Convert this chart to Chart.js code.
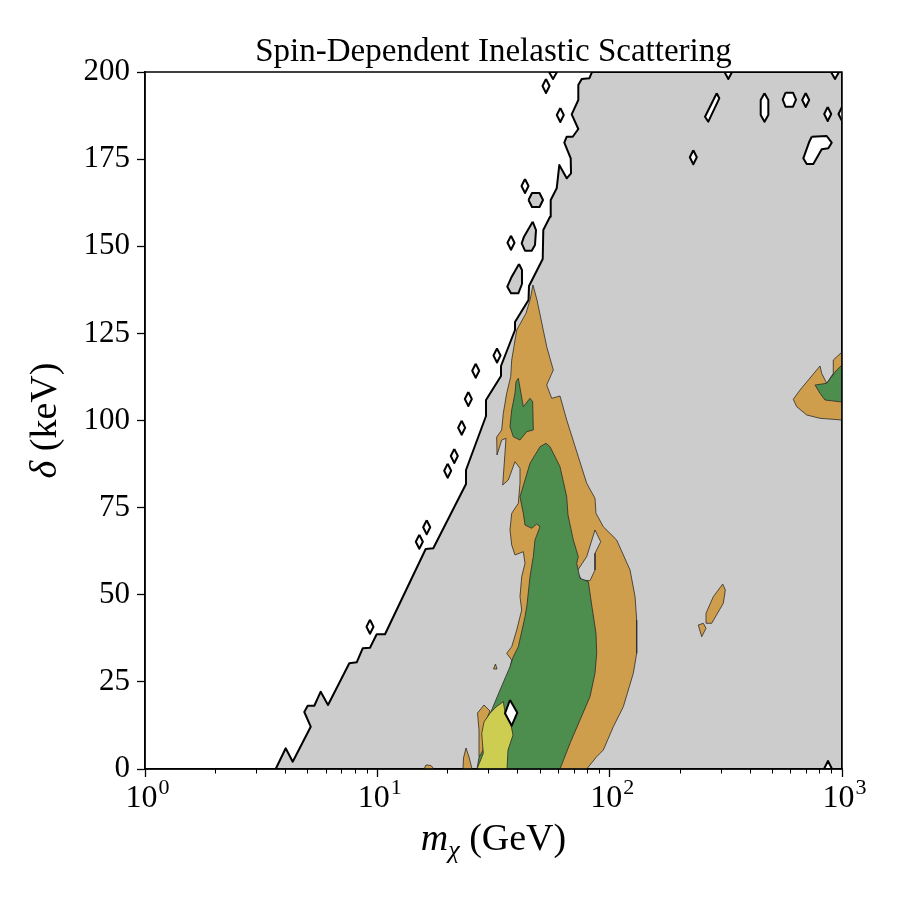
<!DOCTYPE html>
<html><head><meta charset="utf-8">
<script src="https://cdn.jsdelivr.net/npm/chart.js@4.4.1/dist/chart.umd.min.js"></script>
<style>html,body{margin:0;padding:0;background:#fff}canvas{display:block}</style>
</head><body>
<canvas id="c" width="900" height="900"></canvas>
<script>
// ---- tick labels ----
const xTickValues = [1, 10, 100, 1000];
const xTickBase = ['10', '10', '10', '10'];
const xTickExp = ['0', '1', '2', '3'];
const yTickValues = [0, 25, 50, 75, 100, 125, 150, 175, 200];

// ---- contour polygons: [m_chi (GeV), delta (keV)] ----
const greyRegion = [[3.652,0],[4.033,5.94],[4.323,2.09],[5.167,12.14],[4.849,16.36],[5.015,18.16],[5.354,18.16],[5.705,22.18],[6.133,18.36],[7.574,30.33],[8.150,30.62],[8.649,34.63],[9.298,34.81],[9.938,38.65],[10.79,38.65],[16.15,63.13],[17.41,63.33],[24.08,81.78],[24.08,85.80],[29.36,101.29],[29.36,105.88],[34.06,112.77],[34.06,115.64],[39.13,125.97],[39.13,128.26],[44.74,134.57],[44.96,138.59],[51.50,146.34],[51.80,154.66],[55.37,158.48],[55.75,163.27],[59.16,166.63],[60.70,173.31],[65.33,169.50],[68.17,170.93],[67.97,175.24],[63.80,179.71],[65.33,181.43],[69.33,181.43],[73.29,183.64],[68.64,187.86],[73.29,191.96],[73.29,196.27],[75.80,197.99],[81.72,198.19],[83.94,200],[1000,200],[1000,0]];

const greyIslands = [
  [[44.74,163.27],[46.32,165.28],[49.89,165.28],[51.66,163.27],[49.89,161.26],[46.32,161.26]],
  [[46.63,157.04],[48.19,154.66],[47.71,150.36],[46.18,148.72],[43.21,148.72],[41.82,150.84],[42.78,152.74]],
  [[40.72,144.90],[41.94,143.18],[41.94,139.17],[40.44,136.50],[37.61,136.50],[36.26,138.39],[37.88,141.26]]
];

const openIslandsLeft = [
  [[54.82,200],[59.34,200],[57.04,197.99]],
  [[53.21,197.99],[55.09,195.98],[53.21,193.97],[51.40,195.98]],
  [[61.31,189.67],[63.47,187.66],[61.31,185.65],[59.22,187.66]],
  [[43.21,169.30],[44.74,167.29],[43.21,165.28],[41.74,167.29]],
  [[37.61,153.03],[38.94,151.02],[37.61,149.01],[36.33,151.02]],
  [[32.74,120.66],[33.90,118.65],[32.74,116.64],[31.62,118.65]],
  [[26.51,116.30],[27.45,114.29],[26.51,112.28],[25.61,114.29]],
  [[24.64,108.18],[25.51,106.17],[24.64,104.16],[23.80,106.17]],
  [[23.07,99.94],[23.88,97.93],[23.07,95.92],[22.28,97.93]],
  [[21.44,91.82],[22.20,89.81],[21.44,87.80],[20.71,89.81]],
  [[20.08,87.61],[20.79,85.60],[20.08,83.59],[19.40,85.60]],
  [[16.31,71.36],[16.89,69.35],[16.31,67.34],[15.75,69.35]],
  [[15.16,67.23],[15.70,65.22],[15.16,63.21],[14.64,65.22]],
  [[9.298,42.84],[9.626,40.83],[9.298,38.82],[8.981,40.83]]
];

const orangeMain = [[46.77,138.88],[48.67,134.57],[53.58,121.18],[57.20,114.49],[53.58,110.18],[56.30,106.37],[61.13,107.03],[65.33,100.14],[73.29,89.61],[79.64,81.98],[86.47,77.67],[87.33,73.37],[93.89,69.53],[107.2,65.71],[122.4,57.10],[128.6,49.44],[130.7,42.75],[130.7,33.20],[126.4,27.46],[114.5,17.88],[103.7,12.14],[93.89,5.45],[87.94,3.53],[79.64,0],[45.41,0],[37.24,28.89],[37.88,31.28],[36.04,33.20],[37.88,35.09],[39.81,39.88],[41.82,45.62],[41.12,49.44],[41.82,55.18],[43.21,59.02],[42.49,62.35],[39.13,61.41],[37.88,64.27],[37.24,68.58],[37.88,73.37],[40.44,76.24],[41.12,81.98],[41.12,86.28],[39.13,88.18],[36.62,82.93],[34.64,81.49],[35.43,90.59],[35.79,94.89],[34.30,94.40],[32.74,90.10],[32.64,95.26],[34.30,97.27],[34.85,102.07],[36.04,107.80],[37.50,112.57],[37.88,117.36],[39.81,125.97],[43.64,130.76],[45.41,134.57]];

const orangeRight = [[617.2,106.08],[659.6,108.75],[728.3,112.19],[804.1,115.64],[817.8,113.54],[859.3,110.67],[917.3,113.54],[917.3,117.36],[1000,119.65],[1000,100.14],[804.1,100.63],[704.9,101.58],[638.4,103.96]];

const orangeSpecks = [
  [[306.6,53.08],[314.6,51.36],[308.4,47.55],[274.9,41.81],[261.6,41.81],[259.8,44.68],[279.3,49.44]],
  [[240.7,41.32],[253.0,41.81],[259.8,40.37],[249.0,37.96]],
  [[23.37,0],[23.49,3.16],[24.08,6.03],[24.81,3.44],[25.56,0]],
  [[15.88,0],[16.20,1.15],[17.02,1.0],[17.54,0]],
  [[31.62,28.69],[32.25,30.13],[32.74,28.69]]
];

const greyHole = [[86.47,68.58],[91.50,65.22],[86.47,61.89],[86.47,57.10],[82.29,54.03],[75.80,54.23],[72.14,56.61],[79.64,60.92]];

const greenMain = [[53.21,93.46],[55.37,92.48],[61.13,86.74],[65.33,78.13],[66.18,72.88],[69.74,65.71],[73.29,60.92],[72.14,59.02],[74.53,54.72],[80.92,53.74],[83.69,47.06],[87.33,38.94],[87.94,33.20],[86.47,27.46],[82.29,20.75],[74.53,14.06],[67.50,7.37],[61.13,0],[26.85,0],[29.07,13.11],[31.06,16.93],[33.73,22.67],[37.24,29.35],[38.47,32.22],[40.44,35.09],[43.21,43.70],[44.07,47.06],[45.41,55.18],[46.91,60.92],[47.71,65.71],[50.14,69.53],[48.53,70.30],[46.18,69.07],[43.21,70.01],[42.49,73.37],[41.12,78.13],[43.21,82.93],[45.41,87.72],[50.14,92.48]];

const greenIsland = [[40.44,112.11],[42.49,103.96],[45.41,106.37],[46.63,105.39],[46.91,97.27],[43.95,96.79],[41.12,94.40],[38.47,95.35],[37.24,98.22],[37.88,103.01],[39.13,107.80],[39.52,111.13]];

const greenRight = [[765.2,110.18],[859.3,110.67],[948.9,114.49],[1000,115.92],[1000,105.31],[845.0,105.88],[804.1,107.80]];

const orangeSliver = [[26.99,16.07],[28.78,18.36],[30.54,16.64],[29.07,13.20],[28.50,5.45],[27.66,3.73],[27.39,11.19]];

const yellowRegion = [[26.85,0],[28.59,4.50],[28.13,10.13],[28.78,13.49],[30.54,15.98],[32.42,17.79],[34.85,19.31],[35.43,16.36],[37.61,12.63],[38.36,9.76],[36.51,5.45],[36.15,0]];

const openIslandsRight = [
  [[312.1,200],[336.2,200],[324.1,197.99]],
  [[896.8,200],[971.0,200],[933.0,197.99]],
  [[288.9,193.89],[296.4,192.45],[265.8,185.74],[257.3,187.17]],
  [[463.9,193.89],[481.8,191.96],[481.8,187.66],[463.9,185.74],[446.8,187.66],[446.8,191.96]],
  [[571.3,194.06],[615.4,194.06],[634.0,192.05],[615.4,190.04],[571.3,190.04],[555.6,192.05]],
  [[697.9,193.97],[722.5,191.96],[697.9,189.95],[674.1,191.96]],
  [[867.9,189.96],[898.5,187.95],[867.9,185.94],[838.3,187.95]],
  [[1000,189.96],[1035,187.95],[1000,185.94],[965.9,187.95]],
  [[740.6,181.43],[859.3,181.63],[903.0,179.71],[873.0,178.10],[817.8,177.82],[752.5,173.60],[704.9,173.60],[681.5,175.24],[723.2,180.0]],
  [[229.1,177.53],[237.2,175.52],[229.1,173.51],[221.3,175.52]],
  [[836.6,0],[905.8,0],[870.5,2.30]],
  [[37.24,19.80],[40.04,16.15],[37.88,12.42],[35.43,15.98]]
];

// ---- styling ----
const GREY = '#cccccc', ORANGE = '#cf9e4c', GREEN = '#4d8d4e', YELLOW = '#cdcd52', WHITE = '#ffffff';
const SERIF = '"Liberation Serif", "DejaVu Serif", serif';
const THICK = {line: '#000000', w: 2};
const THIN = {line: '#2b2b2b', w: 0.8};

const layers = [];
function add(name, poly, fill, st) { layers.push({name, poly, fill, st}); }
add('excluded', greyRegion, GREY, THICK);
greyIslands.forEach((p, i) => add('excluded island ' + i, p, GREY, THICK));
openIslandsLeft.forEach((p, i) => add('open island L' + i, p, WHITE, THICK));
add('orange main', orangeMain, ORANGE, THIN);
add('orange right', orangeRight, ORANGE, THIN);
orangeSpecks.forEach((p, i) => add('orange speck ' + i, p, ORANGE, THIN));
add('grey hole', greyHole, GREY, THIN);
add('green main', greenMain, GREEN, THIN);
add('green island', greenIsland, GREEN, THIN);
add('green right', greenRight, GREEN, THIN);
add('orange sliver', orangeSliver, ORANGE, THIN);
add('yellow', yellowRegion, YELLOW, THIN);
openIslandsRight.forEach((p, i) => add('open island R' + i, p, WHITE, THICK));

const datasets = layers.map((L, i) => ({
  label: L.name,
  data: L.poly.concat([L.poly[0]]).map(p => ({x: p[0], y: p[1]})),
  showLine: true,
  fill: 'shape',
  backgroundColor: L.fill,
  borderColor: L.st.line,
  borderWidth: L.st.w,
  borderJoinStyle: 'round',
  pointRadius: 0,
  pointHoverRadius: 0,
  tension: 0,
  order: layers.length - i
}));

const minorTicks = [];
[1, 10, 100].forEach(b => { for (let k = 2; k <= 9; k++) minorTicks.push(b * k); });

const decor = {
  id: 'decor',
  afterDraw(chart) {
    const {ctx, chartArea: a, scales: {x}} = chart;
    ctx.save();
    ctx.strokeStyle = '#000';
    ctx.lineWidth = 1;
    minorTicks.forEach(v => {
      const px = Math.round(x.getPixelForValue(v)) + 0.5;
      ctx.beginPath(); ctx.moveTo(px, a.bottom); ctx.lineTo(px, a.bottom + 4.5); ctx.stroke();
    });
    ctx.lineWidth = 1.5;
    ctx.strokeRect(a.left, a.top, a.right - a.left, a.bottom - a.top);
    ctx.fillStyle = '#000';
    ctx.textBaseline = 'alphabetic';
    // x tick labels: 10 with superscript exponent
    ctx.textAlign = 'left';
    xTickValues.forEach((v, i) => {
      const px = x.getPixelForValue(v);
      ctx.font = '32px ' + SERIF;
      const wb = ctx.measureText(xTickBase[i]).width;
      ctx.font = '22px ' + SERIF;
      const we = ctx.measureText(xTickExp[i]).width;
      const x0 = px - (wb + we) / 2 + 2;
      ctx.font = '32px ' + SERIF;
      ctx.fillText(xTickBase[i], x0, 807);
      ctx.font = '22px ' + SERIF;
      ctx.fillText(xTickExp[i], x0 + wb + 1, 794);
    });
    // title
    ctx.font = '33px ' + SERIF;
    ctx.textAlign = 'center';
    ctx.fillText('Spin-Dependent Inelastic Scattering', (a.left + a.right) / 2, 61);
    // x axis label
    ctx.textAlign = 'left';
    const xParts = [
      {t: 'm', f: 'italic 38px ' + SERIF, dy: 0},
      {t: '\u03c7', f: 'italic 26px ' + SERIF, dy: 8},
      {t: ' (GeV)', f: '38px ' + SERIF, dy: 0}
    ];
    let tw = 0;
    xParts.forEach(p => { ctx.font = p.f; p.w = ctx.measureText(p.t).width; tw += p.w; });
    let cx = (a.left + a.right) / 2 - tw / 2;
    xParts.forEach(p => { ctx.font = p.f; ctx.fillText(p.t, cx, 850 + p.dy); cx += p.w; });
    // y axis label
    const yParts = [
      {t: '\u03b4', f: 'italic 38px ' + SERIF},
      {t: ' (keV)', f: '38px ' + SERIF}
    ];
    tw = 0;
    yParts.forEach(p => { ctx.font = p.f; p.w = ctx.measureText(p.t).width; tw += p.w; });
    ctx.translate(56, (a.top + a.bottom) / 2);
    ctx.rotate(-Math.PI / 2);
    cx = -tw / 2;
    yParts.forEach(p => { ctx.font = p.f; ctx.fillText(p.t, cx, 0); cx += p.w; });
    ctx.restore();
  }
};

new Chart(document.getElementById('c'), {
  type: 'line',
  data: {datasets},
  plugins: [decor],
  options: {
    responsive: false,
    animation: false,
    devicePixelRatio: 1,
    events: [],
    layout: {padding: {left: 0, top: 72, right: 58, bottom: 0}},
    plugins: {legend: {display: false}, tooltip: {enabled: false}, title: {display: false}},
    scales: {
      x: {
        type: 'logarithmic', position: 'bottom', min: 1, max: 1000,
        afterFit: s => { s.height = 131; },
        afterBuildTicks: s => { s.ticks = xTickValues.map(v => ({value: v})); },
        ticks: {display: false, autoSkip: false, maxRotation: 0},
        grid: {drawOnChartArea: false, drawTicks: true, tickLength: 8, tickWidth: 1.3, tickColor: '#000'},
        border: {display: true, color: '#000', width: 1.5}
      },
      y: {
        type: 'linear', position: 'left', min: 0, max: 200,
        afterFit: s => { s.width = 145; },
        afterBuildTicks: s => { s.ticks = yTickValues.map(v => ({value: v})); },
        ticks: {color: '#000', padding: 7, font: {family: SERIF, size: 31},
                callback: v => String(v)},
        grid: {drawOnChartArea: false, drawTicks: true, tickLength: 8, tickWidth: 1.3, tickColor: '#000'},
        border: {display: true, color: '#000', width: 1.5}
      }
    }
  }
});
</script>
</body></html>
